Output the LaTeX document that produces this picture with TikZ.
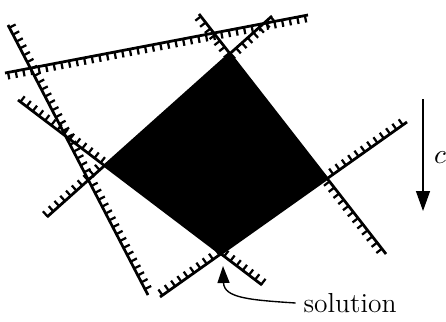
\documentclass[tikz,border=0pt]{standalone}
\usepackage{tikz}
\usetikzlibrary{arrows.meta,decorations.markings}
\tikzset{
  cline/.style={line width=1.1pt},
  ctick/.style={line width=0.9pt},
  hatch/.style={postaction={decorate,decoration={markings,
      mark=between positions 0.01 and 1 step 3.1pt with {\draw[ctick] (0,0) -- (0,#1);}}}},
  hatchL/.style={cline,hatch=2.8pt},
  hatchR/.style={cline,hatch=-2.8pt},
  carr/.style={-{Triangle[length=8pt,width=5.6pt]},line width=0.55pt},
  sarr/.style={-{Triangle[length=6.8pt,width=4.8pt]},line width=0.55pt},
  slab/.style={font=\fontsize{11}{13}\selectfont,inner sep=3pt},
}
\begin{document}
\begin{tikzpicture}[x=0.4pt,y=-0.4pt]
  \useasboundingbox (0,0) rectangle (446,321);
  % end points of the constraint lines
  \coordinate (a1) at (5,73);    \coordinate (a2) at (308,15);
  \coordinate (b1) at (8,25);    \coordinate (b2) at (148,295);
  \coordinate (c1) at (18,100);  \coordinate (c2) at (262,285);
  \coordinate (d1) at (47,217);  \coordinate (d2) at (272,16);
  \coordinate (e1) at (199,14);  \coordinate (e2) at (386,254);
  \coordinate (f1) at (160,297); \coordinate (f2) at (407,122);
  % corners of the feasible region
  \coordinate (vL) at (intersection of c1--c2 and d1--d2);
  \coordinate (vT) at (intersection of d1--d2 and e1--e2);
  \coordinate (vR) at (intersection of e1--e2 and f1--f2);
  \coordinate (vB) at (intersection of c1--c2 and f1--f2);
  \draw[hatchR] (a1) -- (a2);
  \draw[hatchL] (b1) -- (b2);
  \draw[hatchL] (c1) -- (c2);
  \draw[hatchL] (d1) -- (vL);
  \draw[cline] (vL) -- (vT);
  \draw[hatchR] (vT) -- (d2);
  \draw[hatchR] (e1) -- (e2);
  \draw[hatchL] (f1) -- (f2);
  \fill (vL) -- (vT) -- (vR) -- (vB) -- cycle;
  % cost direction
  \coordinate (cTop) at (423,99);
  \coordinate (cBot) at (423,211);
  \draw[carr] (cTop) -- (cBot);
  \node[slab] (clab) at (440,158) {$c$};
  % optimum
  \node[slab] (sol) at (350,303) {solution};
  \coordinate (tip) at (223,266);
  \draw[sarr] (sol.west) .. controls (250,300) and (224,298) .. (tip);
\end{tikzpicture}
\end{document}
